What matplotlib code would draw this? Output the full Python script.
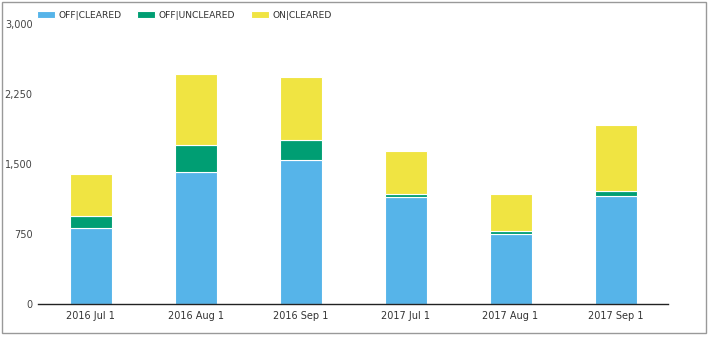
import matplotlib
matplotlib.use("Agg")
import matplotlib.pyplot as plt
from matplotlib.patches import Rectangle
import numpy as np

categories = ["2016 Jul 1", "2016 Aug 1", "2016 Sep 1", "2017 Jul 1", "2017 Aug 1", "2017 Sep 1"]
off_cleared = [810, 1412, 1546, 1143, 747, 1161]
off_uncleared = [134, 296, 215, 39, 39, 53]
on_cleared = [449, 756, 675, 461, 393, 704]
series_names = ["OFF|CLEARED", "OFF|UNCLEARED", "ON|CLEARED"]
colors = ["#56B4E9", "#009E73", "#F0E442"]
yticks = [0, 750, 1500, 2250, 3000]

plt.rcParams['font.family'] = ['DejaVu Sans']
W, H = 709, 338
fig = plt.figure(figsize=(W / 100, H / 100), dpi=100)
ax = fig.add_axes([38 / W, (H - 304) / H, (668 - 38) / W, 280 / H])

x = np.arange(len(categories))
bottom = np.zeros(len(categories))
for name, vals, c in zip(series_names, [off_cleared, off_uncleared, on_cleared], colors):
    ax.bar(x, vals, width=0.4, bottom=bottom, color=c, edgecolor="white", linewidth=0.8, label=name)
    bottom += np.array(vals)

ax.set_xlim(-0.5, len(categories) - 0.5)
ax.set_ylim(0, 3000)
ax.set_yticks(yticks)
ax.set_yticklabels([f"{v:,}" for v in yticks])
ax.set_xticks(x)
ax.set_xticklabels(categories)
ax.tick_params(axis="y", length=0, pad=4, labelsize=7, labelcolor="#444444")
ax.tick_params(axis="x", length=0, pad=5, labelsize=7, labelcolor="#333333")
for s in ["top", "right", "left"]:
    ax.spines[s].set_visible(False)
ax.spines["bottom"].set_color("#222222")
ax.spines["bottom"].set_linewidth(1)

fig.legend(loc="upper left", bbox_to_anchor=(35 / W, 1 - 9 / H), ncol=3, frameon=False,
           fontsize=6.6, handlelength=1.95, handleheight=0.8, handletextpad=0.4,
           columnspacing=1.7, borderaxespad=0, borderpad=0.2, labelcolor="#333333")

fig.add_artist(Rectangle((2 / W, 5 / H), 704 / W, 331 / H, transform=fig.transFigure,
                         fill=False, edgecolor="#999999", linewidth=1))

fig.savefig("out.png", dpi=100)
